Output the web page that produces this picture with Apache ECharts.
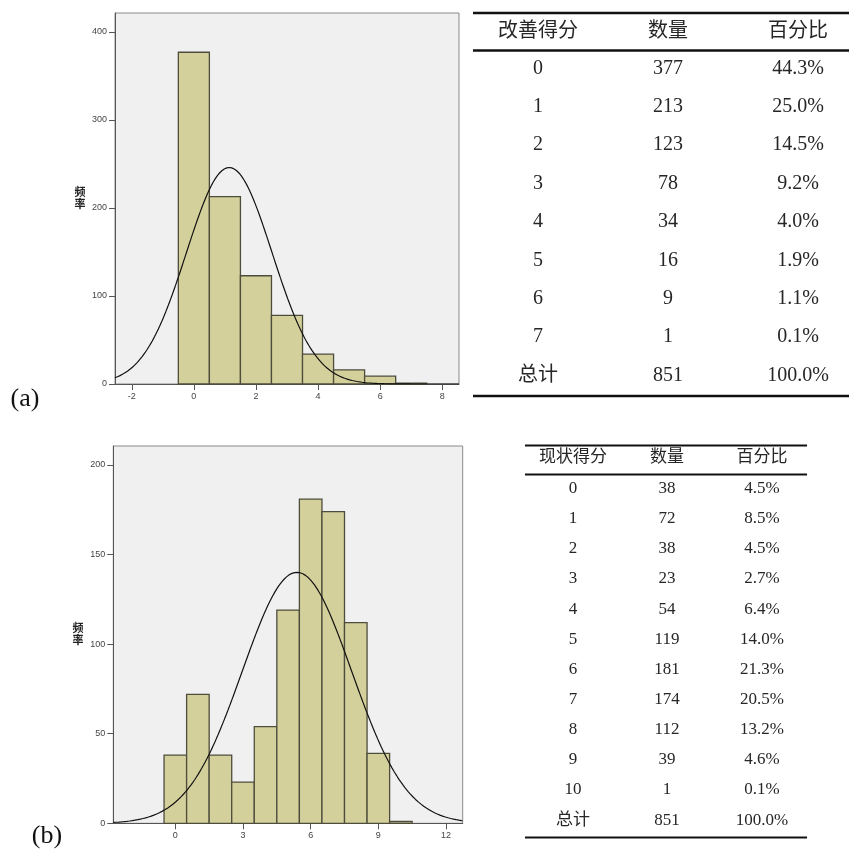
<!DOCTYPE html>
<html>
<head>
<meta charset="utf-8">
<script src="https://cdn.jsdelivr.net/npm/echarts@6/dist/echarts.min.js"></script>
<style>
  html, body { margin: 0; padding: 0; background: #fff; }
  #chart { width: 849px; height: 852px; }
</style>
</head>
<body>
<div id="chart"></div>
<script>
// (a) 改善得分
var scoresA = [0, 1, 2, 3, 4, 5, 6, 7];
var countsA = [377, 213, 123, 78, 34, 16, 9, 1];
var pctA = ["44.3%", "25.0%", "14.5%", "9.2%", "4.0%", "1.9%", "1.1%", "0.1%"];
var totalA = ["总计", "851", "100.0%"];
var headerA = ["改善得分", "数量", "百分比"];
var xTicksA = [-2, 0, 2, 4, 6, 8];
var yTicksA = [0, 100, 200, 300, 400];

// (b) 现状得分
var scoresB = [0, 1, 2, 3, 4, 5, 6, 7, 8, 9, 10];
var countsB = [38, 72, 38, 23, 54, 119, 181, 174, 112, 39, 1];
var pctB = ["4.5%", "8.5%", "4.5%", "2.7%", "6.4%", "14.0%", "21.3%", "20.5%", "13.2%", "4.6%", "0.1%"];
var totalB = ["总计", "851", "100.0%"];
var headerB = ["现状得分", "数量", "百分比"];
var xTicksB = [0, 3, 6, 9, 12];
var yTicksB = [0, 50, 100, 150, 200];

var barFill = "#d4d09b";
var barLine = "#4e4c3c";
var serif = "'Liberation Serif', 'Noto Sans CJK SC', serif";

// 正态曲线：用数据的均值和标准差
function normalCurve(scores, counts, xmin, xmax) {
  var n = 0, s = 0, s2 = 0;
  scores.forEach(function (k, i) { n += counts[i]; s += k * counts[i]; s2 += k * k * counts[i]; });
  var mean = s / n;
  var sd = Math.sqrt((s2 - n * mean * mean) / (n - 1));
  var pts = [];
  for (var x = xmin; x <= xmax + 1e-9; x += 0.04) {
    var z = (x - mean) / sd;
    pts.push([x, n / (sd * Math.sqrt(2 * Math.PI)) * Math.exp(-z * z / 2)]);
  }
  return pts;
}

function histItem(params, api) {
  var x = api.value(0), y = api.value(1);
  var p0 = api.coord([x - 0.5, y]);
  var p1 = api.coord([x + 0.5, 0]);
  return {
    type: "rect",
    shape: { x: p0[0], y: p0[1], width: p1[0] - p0[0], height: p1[1] - p0[1] },
    style: { fill: barFill, stroke: barLine, lineWidth: 1.3 }
  };
}

function xAxisCfg(idx, min, max, ticks) {
  return {
    type: "value", gridIndex: idx, min: min, max: max,
    axisLine: { show: true, onZero: false, lineStyle: { color: "#555", width: 1 } },
    axisTick: { show: true, length: 6, customValues: ticks, lineStyle: { color: "#555" } },
    axisLabel: { customValues: ticks, color: "#444", fontSize: 9, margin: 8, fontFamily: "Liberation Sans" },
    splitLine: { show: false }
  };
}
function yAxisCfg(idx, max, ticks) {
  return {
    type: "value", gridIndex: idx, min: 0, max: max,
    axisLine: { show: true, onZero: false, lineStyle: { color: "#555", width: 1 } },
    axisTick: { show: true, length: 6, customValues: ticks, lineStyle: { color: "#555" } },
    axisLabel: { customValues: ticks, color: "#444", fontSize: 9, margin: 8, fontFamily: "Liberation Sans" },
    splitLine: { show: false }
  };
}

function tableGraphics(header, scores, counts, pcts, total, cfg) {
  var els = [];
  var font = cfg.size + "px " + serif;
  function row(vals, y) {
    vals.forEach(function (v, c) {
      els.push({
        type: "text", x: cfg.cols[c], y: y,
        style: { text: String(v), font: font, fill: "#262626", textAlign: "center", textVerticalAlign: "middle" }
      });
    });
  }
  row(header, cfg.headY);
  scores.forEach(function (s, i) { row([s, counts[i], pcts[i]], cfg.rowY + i * cfg.step); });
  row(total, cfg.rowY + scores.length * cfg.step);
  cfg.rules.forEach(function (ry) {
    els.push({
      type: "line", shape: { x1: cfg.x1, y1: ry, x2: cfg.x2, y2: ry },
      style: { stroke: "#111", lineWidth: cfg.ruleW }
    });
  });
  return els;
}

var chart = echarts.init(document.getElementById("chart"));

var graphics = []
  .concat(tableGraphics(headerA, scoresA, countsA, pctA, totalA, {
    size: 20, cols: [538, 668, 798], headY: 32, rowY: 68.5, step: 38.35,
    rules: [13, 50.5, 396], x1: 473, x2: 849, ruleW: 2.6
  }))
  .concat(tableGraphics(headerB, scoresB, countsB, pctB, totalB, {
    size: 17, cols: [573, 667, 762], headY: 457.5, rowY: 488.5, step: 30.15,
    rules: [445.5, 474.5, 837.5], x1: 525, x2: 807, ruleW: 2.2
  }))
  .concat([
    { type: "text", x: 80, y: 198, style: { text: "频\n率", font: "bold 11px 'Noto Sans CJK SC'", fill: "#222", textAlign: "center", textVerticalAlign: "middle", lineHeight: 12 } },
    { type: "text", x: 78, y: 634, style: { text: "频\n率", font: "bold 11px 'Noto Sans CJK SC'", fill: "#222", textAlign: "center", textVerticalAlign: "middle", lineHeight: 12 } },
    { type: "text", x: 25, y: 399, style: { text: "(a)", font: "26px 'Liberation Serif'", fill: "#111", textAlign: "center", textVerticalAlign: "middle" } },
    { type: "text", x: 47, y: 836, style: { text: "(b)", font: "26px 'Liberation Serif'", fill: "#111", textAlign: "center", textVerticalAlign: "middle" } }
  ]);

chart.setOption({
  animation: false,
  backgroundColor: "#fff",
  grid: [
    { left: 115, top: 13, width: 344, height: 371, show: true, backgroundColor: "#f0f0f0", borderColor: "#8a8a8a", borderWidth: 1 },
    { left: 113.3, top: 446, width: 349.4, height: 377.3, show: true, backgroundColor: "#f0f0f0", borderColor: "#8a8a8a", borderWidth: 1 }
  ],
  xAxis: [xAxisCfg(0, -2.54, 8.54, xTicksA), xAxisCfg(1, -2.75, 12.74, xTicksB)],
  yAxis: [yAxisCfg(0, 421.6, yTicksA), yAxisCfg(1, 210.6, yTicksB)],
  series: [
    {
      type: "custom", xAxisIndex: 0, yAxisIndex: 0, renderItem: histItem,
      encode: { x: 0, y: 1 },
      data: scoresA.map(function (s, i) { return [s, countsA[i]]; })
    },
    {
      type: "line", xAxisIndex: 0, yAxisIndex: 0, showSymbol: false, smooth: false,
      lineStyle: { color: "#111", width: 1.2 },
      data: normalCurve(scoresA, countsA, -2.54, 8.54)
    },
    {
      type: "custom", xAxisIndex: 1, yAxisIndex: 1, renderItem: histItem,
      encode: { x: 0, y: 1 },
      data: scoresB.map(function (s, i) { return [s, countsB[i]]; })
    },
    {
      type: "line", xAxisIndex: 1, yAxisIndex: 1, showSymbol: false, smooth: false,
      lineStyle: { color: "#111", width: 1.2 },
      data: normalCurve(scoresB, countsB, -2.75, 12.74)
    }
  ],
  graphic: graphics
});
</script>
</body>
</html>
